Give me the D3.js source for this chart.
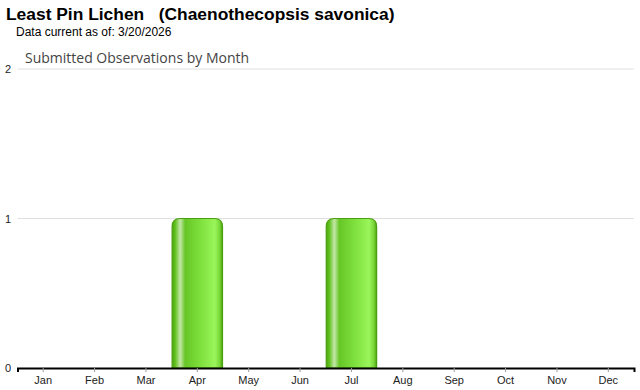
<!DOCTYPE html>
<html>
<head>
<meta charset="utf-8">
<script src="https://cdn.jsdelivr.net/npm/d3@7"></script>
<style>
  body { margin: 0; background: #fff; }
  text { font-family: Arial, "Liberation Sans", sans-serif; }
</style>
</head>
<body>
<div id="chart"></div>
<script>
// data
const months = ["Jan", "Feb", "Mar", "Apr", "May", "Jun", "Jul", "Aug", "Sep", "Oct", "Nov", "Dec"];
const counts = [0, 0, 0, 1, 0, 0, 1, 0, 0, 0, 0, 0];
const yTicks = [0, 1, 2];

const width = 640, height = 390;
const margin = { left: 17.5, right: 6, top: 69, bottom: 22 };

const svg = d3.select("#chart").append("svg").attr("width", width).attr("height", height);

// gradient for bars
const defs = svg.append("defs");
const grad = defs.append("linearGradient").attr("id", "barGrad").attr("x1", 0).attr("x2", 1).attr("y1", 0).attr("y2", 0);
[[0, "#4ea80c"], [0.06, "#5fc01c"], [0.16, "#c4e6a8"], [0.26, "#66c626"], [0.55, "#7ddf3c"], [0.85, "#9af55a"], [0.94, "#7ad83a"], [1, "#4ea80c"]]
  .forEach(([o, c]) => grad.append("stop").attr("offset", o).attr("stop-color", c));

const x = d3.scaleBand().domain(months).range([margin.left, width - margin.right]).padding(0);
const y = d3.scaleLinear().domain([0, 2]).range([height - margin.bottom, margin.top]);

// title block
svg.append("text").attr("x", 6).attr("y", 20).attr("font-size", 17.4).attr("font-weight", 700).attr("fill", "#000")
  .attr("xml:space", "preserve")
  .text("Least Pin Lichen   (Chaenothecopsis savonica)");
svg.append("text").attr("x", 16).attr("y", 36).attr("font-size", 12).attr("fill", "#000")
  .text("Data current as of: 3/20/2026");
svg.append("text").attr("x", 25).attr("y", 63).attr("font-size", 14).attr("fill", "#444")
  .style("font-family", "'Open Sans', 'DejaVu Sans', sans-serif")
  .text("Submitted Observations by Month");

// gridlines
svg.selectAll("line.grid")
  .data(yTicks.filter(d => d > 0))
  .join("line")
  .attr("class", "grid")
  .attr("x1", margin.left).attr("x2", width - margin.right)
  .attr("y1", d => y(d)).attr("y2", d => y(d))
  .attr("stroke", "#e0e0e0").attr("stroke-width", 1);

// y labels
svg.selectAll("text.ylab")
  .data(yTicks)
  .join("text")
  .attr("class", "ylab")
  .attr("x", 11).attr("y", d => y(d) + 4)
  .attr("text-anchor", "end")
  .attr("font-size", 11).attr("fill", "#222")
  .text(d => d);

// bars with rounded tops
const r = 8;
function barPath(d) {
  const x0 = x(d.m) + 0.5, x1 = x(d.m) + x.bandwidth() - 0.5;
  const y0 = y(d.v), y1 = y(0);
  return `M${x0},${y1} L${x0},${y0 + r} Q${x0},${y0} ${x0 + r},${y0} L${x1 - r},${y0} Q${x1},${y0} ${x1},${y0 + r} L${x1},${y1} Z`;
}
const barData = months.map((m, i) => ({ m, v: counts[i] })).filter(d => d.v > 0);
svg.selectAll("path.bar")
  .data(barData)
  .join("path")
  .attr("class", "bar")
  .attr("d", barPath)
  .attr("fill", "url(#barGrad)")
  .attr("stroke", "#4a9e10").attr("stroke-width", 1.2);

// x axis
const xAxis = svg.append("g")
  .attr("transform", `translate(0,${y(0)})`)
  .call(d3.axisBottom(x).tickSize(4).tickPadding(4));
xAxis.select(".domain").attr("stroke", "#000").attr("stroke-width", 2);
xAxis.selectAll(".tick line").attr("stroke", "#999");
xAxis.selectAll(".tick text").attr("font-size", 11).attr("fill", "#222")
  .style("font-family", "Arial, 'Liberation Sans', sans-serif");
</script>
</body>
</html>
